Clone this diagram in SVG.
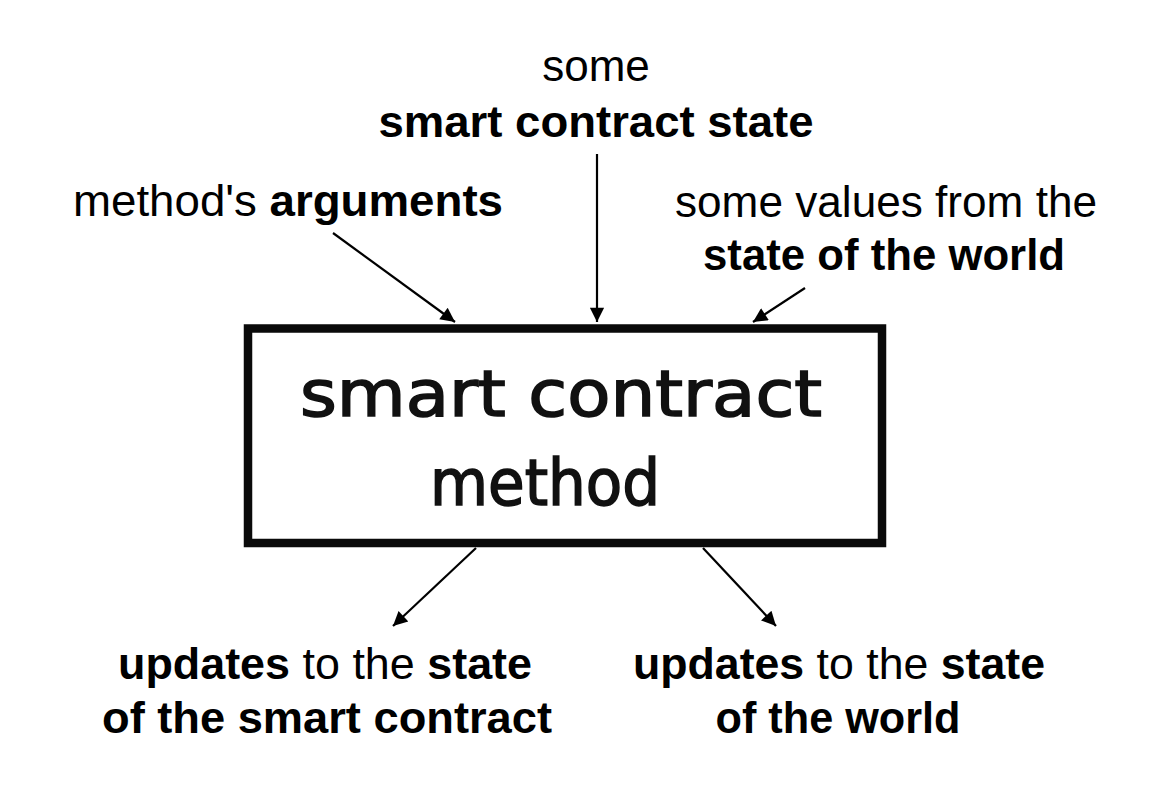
<svg xmlns="http://www.w3.org/2000/svg" width="1156" height="810" viewBox="0 0 1156 810">
<style>
.lbl{font-family:"Liberation Sans",Arial,sans-serif;font-size:44px;fill:#000;text-anchor:middle}
.b{font-weight:bold}
.hand{font-family:"DejaVu Sans","Noto Sans",sans-serif;font-size:64px;fill:#111;stroke:#111;stroke-width:1.6;text-anchor:middle}
.conn{stroke:#000;stroke-width:2.2;fill:none;marker-end:url(#ah)}
</style>
<defs>
<marker id="ah" viewBox="0 0 10 10" refX="10" refY="5" markerWidth="7.5" markerHeight="6.5" markerUnits="strokeWidth" orient="auto">
<path d="M0,0 L10,5 L0,10 z" fill="#000"/>
</marker>
</defs>
<rect width="1156" height="810" fill="#fff"/>
<g id="method-box">
<rect x="248" y="328.5" width="634" height="214.5" fill="#fff" stroke="#0a0a0a" stroke-width="8.5"/>
<text class="hand" x="561" y="416" textLength="522" lengthAdjust="spacingAndGlyphs">smart contract</text>
<text class="hand" x="545" y="505" textLength="230" lengthAdjust="spacingAndGlyphs">method</text>
</g>
<g id="contract-state-in">
<text class="lbl" x="596" y="81">some</text>
<text class="lbl b" x="596" y="137" textLength="435" lengthAdjust="spacingAndGlyphs">smart contract state</text>
</g>
<g id="arguments-in">
<text class="lbl" x="288" y="216" textLength="430" lengthAdjust="spacingAndGlyphs">method's <tspan class="b">arguments</tspan></text>
</g>
<g id="world-state-in">
<text class="lbl" x="886" y="217" textLength="422" lengthAdjust="spacingAndGlyphs">some values from the</text>
<text class="lbl b" x="884" y="270" textLength="362" lengthAdjust="spacingAndGlyphs">state of the world</text>
</g>
<g id="contract-updates-out">
<text class="lbl" x="325" y="679" textLength="414" lengthAdjust="spacingAndGlyphs"><tspan class="b">updates</tspan> to the <tspan class="b">state</tspan></text>
<text class="lbl b" x="327" y="733" textLength="450" lengthAdjust="spacingAndGlyphs">of the smart contract</text>
</g>
<g id="world-updates-out">
<text class="lbl" x="839" y="679" textLength="412" lengthAdjust="spacingAndGlyphs"><tspan class="b">updates</tspan> to the <tspan class="b">state</tspan></text>
<text class="lbl b" x="838" y="733" textLength="245" lengthAdjust="spacingAndGlyphs">of the world</text>
</g>
<g id="connectors">
<line class="conn" x1="333" y1="233" x2="455" y2="322"/>
<line class="conn" x1="597" y1="154" x2="597" y2="322"/>
<line class="conn" x1="805" y1="288" x2="753" y2="322"/>
<line class="conn" x1="476" y1="548" x2="393" y2="626"/>
<line class="conn" x1="703" y1="548" x2="776" y2="626"/>
</g>
</svg>
